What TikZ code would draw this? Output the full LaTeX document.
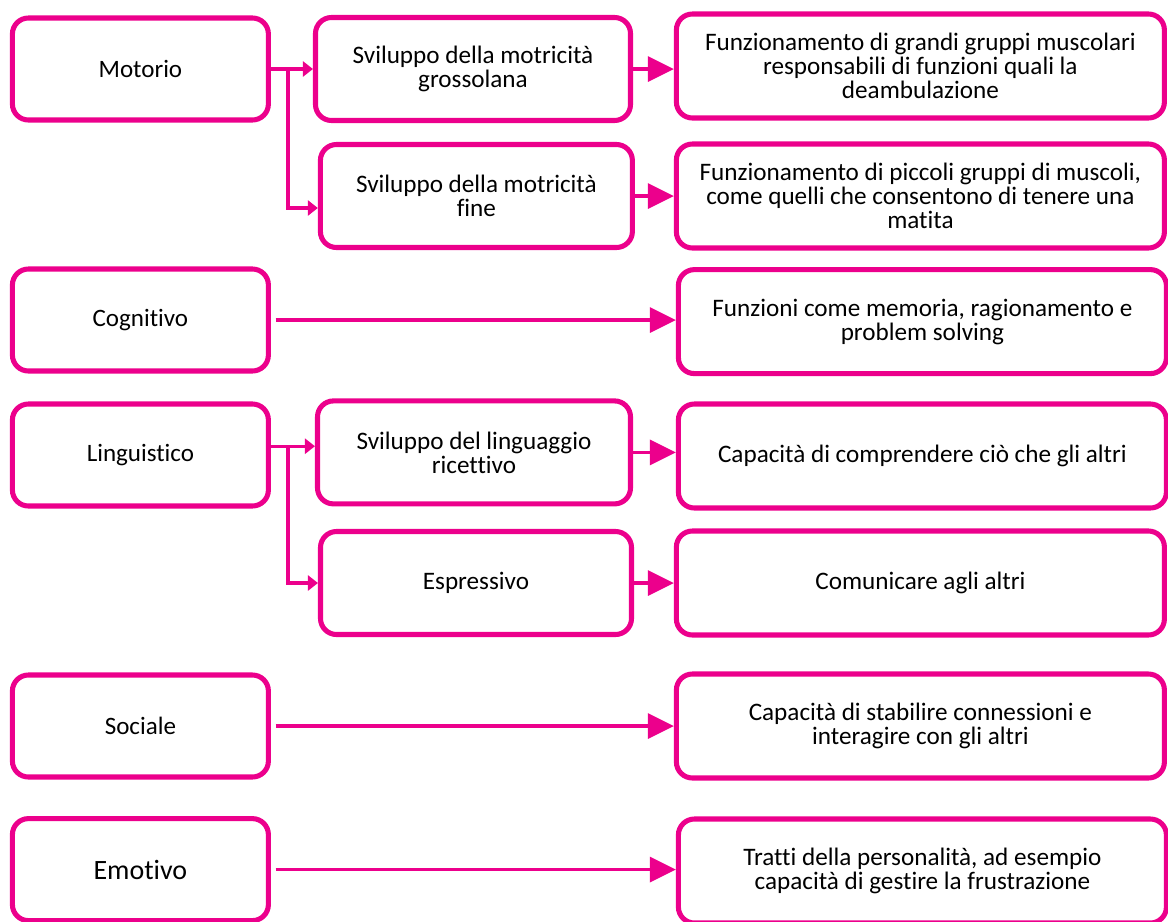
\documentclass[tikz,border=0pt]{standalone}
\usepackage{fontspec}
\setmainfont{Carlito}[Ligatures=NoCommon]
\usetikzlibrary{arrows.meta}
\definecolor{pinkline}{RGB}{236,0,140}

\begin{document}
\begin{tikzpicture}[
	box/.style={draw=pinkline, line width=3.6pt, rounded corners=0.4cm, align=center, inner sep=0pt, font=\fontsize{17.9}{17}\selectfont},
	catbox/.style={box, minimum width=6.4cm, minimum height=2.55cm, font=\fontsize{17.8}{17}\selectfont},
	midbox/.style={box, minimum width=7.8cm, minimum height=2.575cm},
	infobox/.style={box, minimum width=12.2cm, minimum height=2.6cm},
	link/.style={pinkline, line width=2.3pt},
	bigarrow/.style={link, -{Triangle[length=0.65cm, width=0.625cm]}},
	longarrow/.style={bigarrow, shorten <=0.12cm},
	smallarrow/.style={link, -{Triangle[length=0.25cm, width=0.375cm]}}
]
	\useasboundingbox (0, 0) rectangle (29.2, -23.025);

	% areas
	\node[catbox] (motorio) at (3.51, -1.725) {Motorio};
	\node[catbox] (cognitivo) at (3.51, -8.0) {Cognitivo};
	\node[catbox] (linguistico) at (3.51, -11.375) {Linguistico};
	\node[catbox] (sociale) at (3.51, -18.15) {Sociale};
	\node[catbox, font=\fontsize{19.9}{19}\selectfont] (emotivo) at (3.51, -21.74) {Emotivo};

	% sub areas
	\node[midbox, minimum width=7.875cm] (grossa) at (11.825, -1.725) {Sviluppo della motricità\\grossolana};
	\node[midbox] (fine) at (11.91, -4.9) {Sviluppo della motricità\\fine};
	\node[midbox, minimum width=7.825cm] (ricettivo) at (11.85, -11.31) {Sviluppo del linguaggio\\ricettivo};
	\node[midbox, minimum width=7.775cm] (espressivo) at (11.9, -14.575) {Espressivo};

	% descriptions
	\node[infobox] (grossainfo) at (23.01, -1.65) {Funzionamento di grandi gruppi muscolari\\responsabili di funzioni quali la\\deambulazione};
	\node[infobox] (fineinfo) at (23.01, -4.9) {Funzionamento di piccoli gruppi di muscoli,\\come quelli che consentono di tenere una\\matita};
	\node[infobox] (cognitivoinfo) at (23.06, -8.04) {Funzioni come memoria, ragionamento e\\problem solving};
	\node[infobox] (ricettivoinfo) at (23.06, -11.4) {Capacità di comprendere ciò che gli altri};
	\node[infobox] (espressivoinfo) at (23.01, -14.575) {Comunicare agli altri};
	\node[infobox] (socialeinfo) at (23.01, -18.15) {Capacità di stabilire connessioni e\\interagire con gli altri};
	\node[infobox] (emotivoinfo) at (23.06, -21.775) {Tratti della personalità, ad esempio\\capacità di gestire la frustrazione};

	% forks
	\coordinate (mfork) at (7.2, -1.725);
	\coordinate (lstart) at ([yshift=0.22cm]linguistico.east);
	\coordinate (lfork) at (7.2, -11.15);

	\draw[smallarrow] (motorio.east) -- (grossa.west);
	\draw[smallarrow] (mfork) |- ([yshift=-0.3cm]fine.west);
	\draw[smallarrow] (lstart) -- (lstart -| ricettivo.west);
	\draw[smallarrow] (lfork) |- (espressivo.west);

	\draw[bigarrow] (grossa.east) -- (grossa.east -| grossainfo.west);
	\draw[bigarrow] (fine.east) -- (fine.east -| fineinfo.west);
	\draw[bigarrow] (ricettivo.east) -- (ricettivo.east -| ricettivoinfo.west);
	\draw[bigarrow] (espressivo.east) -- (espressivo.east -| espressivoinfo.west);

	\draw[longarrow] (cognitivo.east) -- (cognitivo.east -| cognitivoinfo.west);
	\draw[longarrow] (sociale.east) -- (sociale.east -| socialeinfo.west);
	\draw[longarrow] (emotivo.east) -- (emotivo.east -| emotivoinfo.west);
\end{tikzpicture}
\end{document}
